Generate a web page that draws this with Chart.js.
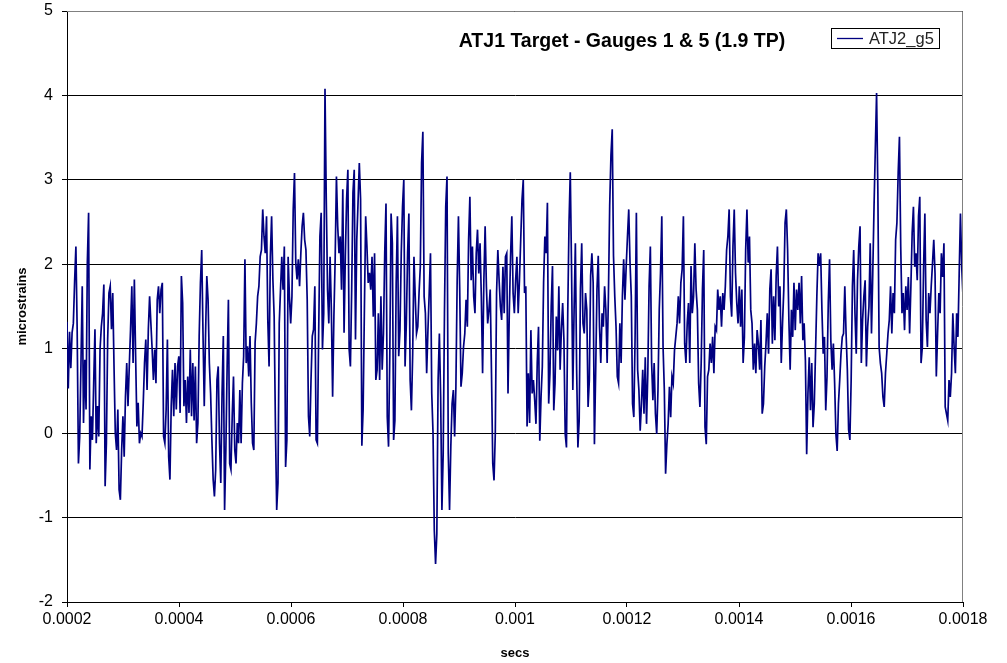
<!DOCTYPE html>
<html>
<head>
<meta charset="utf-8">
<script src="https://cdn.jsdelivr.net/npm/chart.js@4.4.1/dist/chart.umd.min.js"></script>
<style>
  html, body { margin: 0; padding: 0; background: #fff; }
</style>
</head>
<body>
<canvas id="strain-chart" width="1007" height="663"></canvas>
<script>
const tStart = 0.0002;
const tEnd = 0.0018;
const seriesName = "ATJ2_g5";
const chartTitle = "ATJ1 Target - Gauges 1 & 5 (1.9 TP)";
const xTicks = [0.0002, 0.0004, 0.0006, 0.0008, 0.001, 0.0012, 0.0014, 0.0016, 0.0018];
const yTicks = [-2, -1, 0, 1, 2, 3, 4, 5];

const seg1 = [1.32, 0.53, 1.2, 0.77, 1.19, 1.3, 1.8, 2.21, 1.23, -0.36, -0.04, 0.83, 1.74, 0.12, 0.87, 0.28, 2.02, 2.61, -0.43, 0.2, -0.08, 0.59, 1.23, -0.12, 0.32, -0.04, 0.99, 1.26, 1.42, 1.76, -0.63, -0.12, 1.11, 1.66, 1.74, 1.23, 1.66, 0.79, 0.0, -0.2, 0.28, -0.67, -0.79, -0.2, 0.2, -0.28, 0.43, 0.83, 0.32, 0.79, 1.23, 1.74, 0.83, 1.82, 0.91, 0.08, 0.36, -0.12, 0.0, -0.04, 0.36, 0.83, 1.11, 0.51, 1.23, 1.62, 1.3, 0.99, 0.63, 0.99, 0.59, 1.58, 1.74, 1.42, 1.7, 1.78, -0.04, -0.12, 0.28, 1.11, -0.28, -0.55, 0.32, 0.75, 0.2, 0.83, 0.28, 0.79, 0.91, 0.24, 1.86, 1.54, 0.32, 0.63, 0.12, 0.67, 0.24, 0.99, 0.2, 0.83, 0.15, 0.79, -0.12, 0.12, 1.15, 1.78, 2.17, 1.19, 0.32, 1.15, 1.86, 1.58, 0.83, 0.47, -0.08, -0.55, -0.75, -0.43, 0.63, 0.79];
const seg2 = [-0.12, -0.59, 0.47, 1.15, -0.91, -0.2, 0.79, 1.58, -0.36, -0.43, 0.2, 0.67, -0.2, -0.36, 0.12, -0.12, 0.51, -0.12, 0.59, 0.91, 2.06, 0.83, 1.03, 0.67, 1.15, 0.36, -0.12, -0.2, 1.07, 1.3, 1.62, 1.74, 2.09, 2.17, 2.65, 2.33, 2.13, 2.57, 1.34, 0.79, 2.09, 2.57, 1.82, 1.38, 0.08, -0.91, -0.59, 1.3, 1.7, 2.09, 1.7, 2.21, -0.4, -0.08, 2.09, 1.62, 1.3, 1.62, 2.65, 3.08, 2.02, 1.82, 2.06, 1.74, 2.13, 2.45, 2.61, 2.29, 2.17, 1.58, 0.2, -0.04, 0.63, 1.15, 1.23, 1.74, -0.08, -0.12, 1.15, 2.33, 2.61, 0.99, 1.42, 4.08, 2.77, 1.7, 1.3, 2.09, 1.46, 0.43, 1.38, 2.06, 3.04, 2.45, 2.13, 2.33, 1.7, 2.89, 1.19, 2.09, 2.77, 3.12, 0.99, 0.79, 1.7, 2.85, 3.12, 1.11, 2.29, 2.73, 3.2, 2.77, -0.15, 0.28, 1.46, 2.57, 2.21, 1.78, 1.9, 1.7, 2.09, 1.38, 2.13, 0.63];
const seg3 = [0.75, 1.42, 0.63, 1.62, 0.75, 1.18, 2.13, 2.72, 0.19, -0.16, 0.94, 2.6, 2.25, -0.08, 0.15, 1.77, 2.57, 0.91, 1.22, 2.13, 2.68, 3.0, 0.79, 1.3, 2.13, 2.6, 0.63, 0.27, 0.94, 2.09, 1.62, 1.18, 1.26, 1.66, 1.97, 3.2, 3.57, 1.62, 1.42, 0.71, 1.22, 1.66, 2.13, 0.47, 0.0, -1.15, -1.55, -1.19, 0.63, 1.18, 0.43, -0.91, -0.24, 1.42, 2.68, 3.04, -0.24, -0.91, -0.16, 0.35, 0.51, -0.04, 0.55, 1.81, 2.57, 1.7, 0.55, 0.71, 1.02, 1.18, 1.58, 1.26, 2.29, 2.8, 1.81, 2.21, 1.62, 1.42, 2.13, 2.41, 1.89, 2.25, 1.62, 0.71, 1.81, 2.45, 1.74, 1.3, 1.46, 1.7, 0.71, -0.36, -0.56, 0.0, 1.66, 2.17, 1.81, 1.5, 1.34, 1.97, 1.42, 2.09, 2.13, 0.47, 1.42, 2.09, 2.57, 1.66, 1.42, 1.81, 2.09, 1.42, 1.81, 2.29, 2.76, 3.0, 1.66, 1.74, 0.08, 0.71, 0.12, 1.22, 0.47, 0.63];
const seg4 = [0.39, 0.11, 0.83, 1.26, -0.09, 0.43, 0.79, 1.78, 2.33, 2.13, 2.73, 0.35, 0.71, 1.5, 1.98, 0.27, 0.59, 1.38, 0.98, 1.74, 0.75, 1.22, 1.54, 1.1, -0.01, -0.17, 1.42, 2.49, 3.09, 1.94, 0.51, 1.46, 2.25, 0.75, -0.17, 0.15, 1.7, 2.25, 1.3, 1.18, 1.66, 1.46, 0.31, 0.63, 1.86, 2.13, 1.78, -0.13, 0.75, 1.7, 2.1, 1.26, 0.83, 1.42, 1.26, 1.74, 1.46, 0.83, 1.62, 2.69, 3.29, 3.6, 2.1, 1.62, 1.26, 0.67, 0.59, 1.3, 0.83, 1.62, 2.06, 1.58, 1.98, 2.33, 2.65, 2.02, 1.62, 0.35, 0.19, 1.14, 2.61, 0.75, 0.51, 0.03, 0.35, 0.75, 0.23, 0.9, 0.11, 0.71, 1.74, 2.21, 0.83, 0.39, 0.83, 0.23, -0.01, 0.51, 1.46, 1.9, 2.57, 1.02, 0.51, -0.48, -0.13, 0.11, 0.55, 0.19, 0.67, 0.59, 0.98, 1.14, 1.3, 1.62, 1.3, 1.78, 1.94, 2.57, 1.06, 0.83, 1.3];
const seg5 = [1.54, 0.83, 1.98, 1.42, 1.62, 2.25, 1.7, 1.46, 0.59, 0.31, 0.83, 1.7, 2.17, 0.07, -0.13, 0.67, 0.75, 1.06, 0.83, 1.14, 0.71, 1.26, 1.22, 1.7, 1.46, 1.62, 1.26, 1.66, 1.46, 1.74, 2.17, 2.33, 2.65, 1.62, 1.38, 2.21, 2.65, 1.9, 1.54, 1.3, 1.74, 1.26, 1.7, 0.83, 1.14, 2.17, 2.65, 2.02, 2.33, 1.46, 1.3, 0.75, 1.06, 0.71, 1.22, 1.06, 0.75, 1.34, 0.23, 0.35, 0.79, 1.06, 1.42, 0.94, 1.7, 1.94, 1.06, 1.62, 1.1, 1.86, 2.21, 1.5, 1.74, 0.83, 1.3, 1.7, 2.49, 2.65, 2.17, 1.34, 0.75, 1.46, 1.14, 1.78, 1.22, 1.7, 1.46, 1.78, 1.3, 1.86, 1.1, 1.3, 0.86, -0.25, 0.47, 0.9, 0.27, 0.83, 0.07, 0.35, 0.98, 1.62, 2.13, 1.98, 2.13, 1.46, 0.94, 1.14, 0.27, 0.67, 1.54, 2.06, 1.1, 0.75, 1.06, 0.59, -0.01, -0.21, 0.35];
const seg6 = [0.63, 0.94, 1.14, 1.18, 1.74, 1.18, 0.75, 0.04, -0.08, 0.63, 1.74, 2.17, 1.42, 0.94, 1.81, 2.21, 2.45, 0.83, 1.34, 1.62, 1.81, 0.79, 1.26, 1.5, 2.25, 1.18, 1.89, 2.68, 3.36, 4.03, 2.88, 1.02, 0.83, 0.71, 0.43, 0.31, 0.71, 0.94, 1.18, 1.34, 1.74, 1.18, 1.66, 1.42, 2.29, 2.49, 3.08, 3.51, 2.21, 1.42, 1.66, 1.22, 1.74, 1.46, 1.85, 1.18, 1.74, 2.37, 2.68, 1.97, 2.13, 1.81, 2.57, 2.8, 0.83, 1.02, 1.97, 2.6, 1.34, 1.02, 1.66, 1.42, 1.74, 2.01, 2.29, 1.89, 0.67, 1.18, 1.66, 1.42, 2.13, 1.85, 2.25, 0.31, 0.23, 0.15, 0.63, 0.43, 0.71, 1.42, 1.02, 0.71, 1.42, 1.14, 1.89, 2.6, 1.97, 1.62];

const strains = seg1.concat(seg2, seg3, seg4, seg5, seg6);
const dt = (tEnd - tStart) / (strains.length - 1);
const points = strains.map((v, i) => ({ x: tStart + i * dt, y: v }));

Chart.defaults.font.family = '"Liberation Sans", Arial, sans-serif';
Chart.defaults.color = "#000";

// title + legend box sit inside the plot area, plus the grey frame on top/right
const overlay = {
  id: "overlay",
  afterDraw(chart) {
    const ctx = chart.ctx;
    const a = chart.chartArea;
    const ds = chart.data.datasets[0];
    ctx.save();
    ctx.strokeStyle = "#808080";
    ctx.lineWidth = 1;
    ctx.beginPath();
    ctx.moveTo(a.left, a.top + 0.5);
    ctx.lineTo(a.right - 0.5, a.top + 0.5);
    ctx.lineTo(a.right - 0.5, a.bottom);
    ctx.stroke();

    ctx.fillStyle = "#000";
    ctx.font = 'bold 19.5px "Liberation Sans", Arial, sans-serif';
    ctx.textAlign = "center";
    ctx.textBaseline = "middle";
    ctx.fillText(chartTitle, a.left + 555, a.top + 31);

    const bx = a.right - 132, by = a.top + 17, bw = 108, bh = 20;
    ctx.fillStyle = "#fff";
    ctx.fillRect(bx, by, bw, bh);
    ctx.strokeStyle = "#000";
    ctx.strokeRect(bx + 0.5, by + 0.5, bw, bh);
    ctx.strokeStyle = ds.borderColor;
    ctx.lineWidth = 1.3;
    ctx.beginPath();
    ctx.moveTo(bx + 6, by + 10.5);
    ctx.lineTo(bx + 32, by + 10.5);
    ctx.stroke();
    ctx.fillStyle = "#222";
    ctx.font = '16.5px "Liberation Sans", Arial, sans-serif';
    ctx.textAlign = "left";
    ctx.fillText(ds.label, bx + 38, by + 11);
    ctx.restore();
  }
};

new Chart(document.getElementById("strain-chart"), {
  type: "line",
  data: {
    datasets: [{
      label: seriesName,
      data: points,
      borderColor: "#000080",
      borderWidth: 1.7,
      pointRadius: 0,
      tension: 0,
      fill: false
    }]
  },
  options: {
    responsive: false,
    animation: false,
    layout: { padding: { top: 11, right: 44, left: 0, bottom: 0 } },
    plugins: {
      legend: { display: false },
      tooltip: { enabled: false }
    },
    scales: {
      x: {
        type: "linear",
        min: tStart,
        max: tEnd,
        afterBuildTicks(s) { s.ticks = xTicks.map(v => ({ value: v })); },
        afterFit(s) { s.height = 61; s.paddingLeft = 0; s.paddingRight = 0; },
        ticks: {
          autoSkip: false,
          maxRotation: 0,
          padding: 3,
          font: { size: 16 },
          callback: v => String(+v.toFixed(4))
        },
        grid: { drawOnChartArea: false, tickLength: 5, color: "#000" },
        border: { color: "#000" },
        title: {
          display: true,
          text: "secs",
          font: { size: 13, weight: "bold" },
          padding: { top: 0, bottom: 2 }
        }
      },
      y: {
        min: -2,
        max: 5,
        afterBuildTicks(s) { s.ticks = yTicks.map(v => ({ value: v })); },
        afterFit(s) { s.width = 67; s.paddingTop = 0; s.paddingBottom = 0; },
        ticks: { padding: 9, font: { size: 16 } },
        grid: { color: "#000", tickLength: 5 },
        border: { color: "#000" },
        title: {
          display: true,
          text: "microstrains",
          font: { size: 13, weight: "bold" },
          padding: { top: 15, bottom: 0 }
        }
      }
    }
  },
  plugins: [overlay]
});
</script>
</body>
</html>
